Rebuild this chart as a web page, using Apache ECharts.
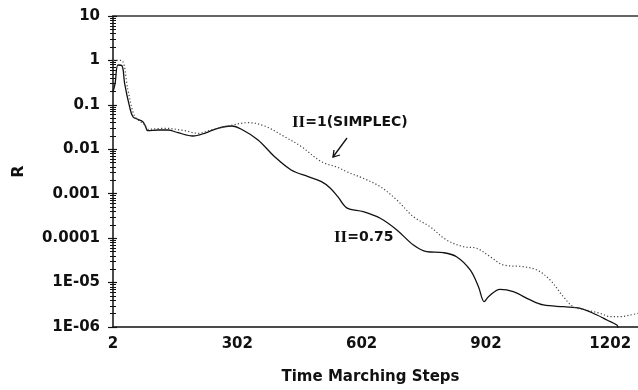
<!DOCTYPE html>
<html><head><meta charset="utf-8">
<script src="https://cdn.jsdelivr.net/npm/echarts@6/dist/echarts.min.js"></script>
<style>html,body{margin:0;padding:0;background:#fff}#c{width:638px;height:390px}</style>
</head><body><div id="c"></div>
<script>
// Π = 0.75 (solid)
const stepsA = [2, 7, 14, 24, 30, 42, 50, 62, 74, 80, 86, 111, 135, 159, 195, 223, 255, 288, 312, 352, 392, 432, 473, 505, 526, 545, 566, 606, 647, 687, 727, 759, 799, 831, 864, 884, 898, 908, 936, 968, 1009, 1041, 1089, 1130, 1170, 1194, 1218, 1221];
const valuesA = [0.195, 0.3, 0.79, 0.75, 0.305, 0.091, 0.054, 0.0473, 0.0418, 0.0334, 0.0262, 0.0272, 0.0272, 0.0236, 0.0199, 0.0229, 0.0297, 0.0334, 0.0282, 0.0162, 0.0068, 0.00342, 0.00242, 0.00187, 0.00135, 0.00085, 0.00048, 0.000394, 0.00028, 0.000153, 7.0e-5, 4.96e-5, 4.71e-5, 3.82e-5, 1.92e-5, 8.07e-6, 3.71e-6, 4.81e-6, 7.06e-6, 6.24e-6, 4.06e-6, 3.13e-6, 2.86e-6, 2.64e-6, 1.86e-6, 1.44e-6, 1.11e-6, 0.95e-6];
// Π = 1 (SIMPLEC), dotted
const stepsB = [2, 22, 38, 50, 58, 79, 86, 127, 175, 207, 239, 280, 328, 368, 416, 457, 505, 545, 566, 606, 647, 687, 727, 767, 807, 848, 880, 912, 944, 992, 1025, 1057, 1089, 1113, 1145, 1178, 1202, 1226, 1250, 1269];
const valuesB = [1.0, 1.0, 0.216, 0.07, 0.0498, 0.0352, 0.0282, 0.0297, 0.0262, 0.0229, 0.0272, 0.0334, 0.0397, 0.0334, 0.0192, 0.0114, 0.00526, 0.0039, 0.00313, 0.00222, 0.00144, 0.000722, 0.000304, 0.000181, 9.08e-5, 6.41e-5, 5.91e-5, 3.82e-5, 2.49e-5, 2.28e-5, 1.92e-5, 1.14e-5, 4.81e-6, 2.86e-6, 2.41e-6, 2.03e-6, 1.71e-6, 1.71e-6, 1.86e-6, 2.03e-6];

const xTickValues = [2, 302, 602, 902, 1202];
const yTickLabels = ['1E-06', '1E-05', '0.0001', '0.001', '0.01', '0.1', '1', '10'];
const xMin = 2, xMax = 1269, yMin = 1e-6, yMax = 10;

const zip = (xs, ys) => xs.map((x, i) => [x, ys[i]]);
const FONT = 'DejaVu Sans';
const chart = echarts.init(document.getElementById('c'), null, {renderer: 'canvas'});
const richNote = {
  s: {fontFamily: 'Liberation Serif', fontWeight: 'bold', fontSize: 17, fill: '#111'},
  t: {fontFamily: FONT, fontWeight: 'bold', fontSize: 14, fill: '#111'}
};
chart.setOption({
  animation: false,
  backgroundColor: '#fff',
  grid: {left: 113, right: 0, top: 16, bottom: 63},
  xAxis: [{
    type: 'value', min: xMin, max: xMax,
    name: 'Time Marching Steps', nameLocation: 'middle', nameGap: 43,
    nameTextStyle: {fontFamily: FONT, fontSize: 15, fontWeight: 'bold', color: '#111', padding: [0, 10, 0, 0]},
    axisLine: {show: true, onZero: false, lineStyle: {color: '#111', width: 1.5}},
    axisTick: {show: false},
    splitLine: {show: false},
    axisLabel: {customValues: xTickValues, margin: 10, fontFamily: FONT, fontSize: 15, fontWeight: 'bold', color: '#111',
      formatter: v => String(v)}
  }, {
    type: 'value', min: xMin, max: xMax, position: 'top',
    axisLine: {show: true, onZero: false, lineStyle: {color: '#333', width: 1.5}},
    axisTick: {show: false}, axisLabel: {show: false}, splitLine: {show: false}
  }],
  yAxis: [{
    type: 'log', logBase: 10, min: yMin, max: yMax, interval: 1,
    name: 'R', nameLocation: 'middle', nameGap: 86, nameRotate: 90,
    nameTextStyle: {fontFamily: FONT, fontSize: 16, fontWeight: 'bold', color: '#111'},
    axisLine: {show: true, lineStyle: {color: '#111', width: 1.5}},
    axisTick: {show: true, length: 5, lineStyle: {color: '#111', width: 1.2}},
    minorTick: {show: true, splitNumber: 9, length: 3, lineStyle: {color: '#111', width: 1}},
    splitLine: {show: false},
    axisLabel: {margin: 13, fontFamily: FONT, fontSize: 15, fontWeight: 'bold', color: '#111',
      formatter: v => yTickLabels[Math.round(Math.log10(v)) + 6]}
  }, {
    type: 'log', logBase: 10, min: yMin, max: yMax, interval: 1, position: 'left',
    axisLine: {show: false},
    axisTick: {show: true, inside: true, length: 4, lineStyle: {color: '#111', width: 1.2}},
    minorTick: {show: true, splitNumber: 9, length: 3, lineStyle: {color: '#111', width: 1}},
    axisLabel: {show: false}, splitLine: {show: false}
  }],
  series: [{
    name: 'Π=0.75', type: 'line', data: zip(stepsA, valuesA), smooth: 0.35,
    showSymbol: false, clip: true,
    lineStyle: {color: '#111', width: 1.3}
  }, {
    name: 'Π=1 (SIMPLEC)', type: 'line', data: zip(stepsB, valuesB), smooth: 0.35,
    showSymbol: false, clip: true,
    lineStyle: {color: '#444', width: 1.2, type: [1.2, 2.2]}
  }],
  graphic: [
    {type: 'text', left: 292, top: 114, style: {text: '{s|II}{t|=1(SIMPLEC)}', rich: richNote}},
    {type: 'line', shape: {x1: 347, y1: 138, x2: 333, y2: 157}, style: {stroke: '#111', lineWidth: 1.3}},
    {type: 'polyline', shape: {points: [[340, 155], [333, 157], [334, 150]]}, style: {stroke: '#111', lineWidth: 1.3, fill: null}},
    {type: 'text', left: 334, top: 229, style: {text: '{s|II}{t|=0.75}', rich: richNote}}
  ]
});
</script>
</body></html>
